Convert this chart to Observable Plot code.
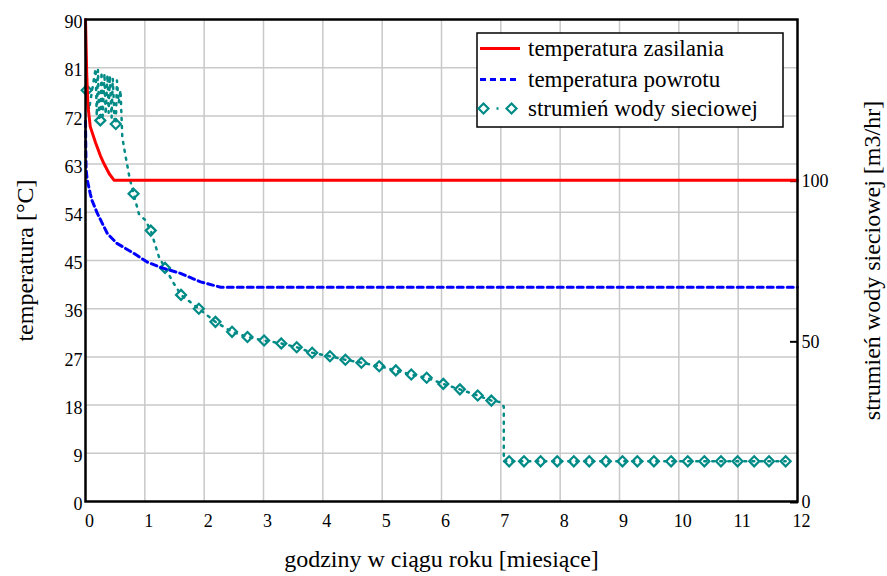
<!DOCTYPE html>
<html>
<head>
<meta charset="utf-8">
<script src="https://cdn.jsdelivr.net/npm/d3@7"></script>
<script src="https://cdn.jsdelivr.net/npm/@observablehq/plot@0.6"></script>
<style>
  html, body { margin: 0; padding: 0; background: #fff; }
  #chart { width: 887px; height: 576px; }
  #chart svg text { font-family: 'Liberation Serif', 'Times New Roman', serif; }
</style>
</head>
<body>
<div id="chart"></div>
<script>
// Axis ticks
const monthTicks = d3.range(0, 13);
const tempTicks = [0, 9, 18, 27, 36, 45, 54, 63, 72, 81, 90];
const flowTicks = [0, 50, 100];

// Supply temperature [°C] vs. months
const supplyMonth = [0, 0.02, 0.04, 0.08, 0.17, 0.25, 0.31, 0.40, 0.48, 12];
const supplyTemp  = [90, 80, 74, 70, 67, 64.6, 63.1, 61.2, 60, 60];

// Return temperature [°C] vs. months
const returnMonth = [0, 0.005, 0.01, 0.03, 0.08, 0.11, 0.20, 0.37, 0.53, 0.82, 1.04, 1.27, 1.60, 1.94, 2.28, 12];
const returnTemp  = [71, 66, 62, 60, 57.5, 56.2, 53.8, 50, 48.2, 46.3, 44.7, 43.7, 42.6, 41, 40, 40];

// Network water flow [m3/hr] vs. months; flowMarker = 1 where a diamond is drawn
const flowMonth = [
  0.02, 0.06, 0.17, 0.19, 0.21, 0.23, 0.25, 0.27, 0.29, 0.32, 0.34, 0.37, 0.39, 0.41, 0.44, 0.46, 0.49, 0.51,
  0.53, 0.56, 0.59, 0.62, 0.67, 0.74, 0.81, 0.90, 1.01, 1.10, 1.24, 1.34, 1.49, 1.61, 1.91, 2.19, 2.47, 2.73,
  3.01, 3.30, 3.56, 3.82, 4.12, 4.38, 4.65, 4.95, 5.23, 5.49, 5.75, 6.03, 6.31, 6.61, 6.84, 7.00, 7.05, 7.05,
  7.14, 7.39, 7.67, 7.95, 8.23, 8.49, 8.77, 9.05, 9.30, 9.58, 9.87, 10.15, 10.43, 10.71, 10.99, 11.27, 11.52, 11.80
];
const flowRate = [
  128, 122, 134.7, 120, 134.3, 119.5, 118.6, 133.7, 120, 133.2, 120.5, 132.7, 121, 132.5, 119.5, 131.7, 119, 117.5,
  131, 124, 128, 113.4, 108, 101, 95.8, 89.5, 87.5, 84.3, 76, 72.7, 67.8, 64.3, 60.0, 55.9, 52.8, 51.2,
  50.1, 49.2, 48.0, 46.3, 45.2, 44.1, 43.2, 42.1, 40.8, 39.5, 38.5, 36.6, 34.9, 33.0, 31.4, 30.9, 29.5, 12.5,
  12.5, 12.5, 12.5, 12.5, 12.5, 12.5, 12.5, 12.5, 12.5, 12.5, 12.5, 12.5, 12.5, 12.5, 12.5, 12.5, 12.5, 12.5
];
const flowMarker = [
  1, 0, 0, 0, 0, 0, 1, 0, 0, 0, 0, 0, 0, 0, 0, 0, 0, 1,
  0, 0, 0, 0, 0, 0, 1, 0, 0, 1, 0, 1, 0, 1, 1, 1, 1, 1,
  1, 1, 1, 1, 1, 1, 1, 1, 1, 1, 1, 1, 1, 1, 1, 0, 0, 0,
  1, 1, 1, 1, 1, 1, 1, 1, 1, 1, 1, 1, 1, 1, 1, 1, 1, 1
];

// Legend entries
const legendLabels = ["temperatura zasilania", "temperatura powrotu", "strumień wody sieciowej"];

const RED = "#ff0000", BLUE = "#0000ff", TEAL = "#008b87", GRID = "#c9c9c9";
const FONT = "'Liberation Serif', 'Times New Roman', serif";

// The flow series shares the temperature scale: 150 m3/hr spans the same height as 90 °C
const flowToTemp = 90 / 150;

const supply = supplyMonth.map((m, i) => ({month: m, value: supplyTemp[i]}));
const ret = returnMonth.map((m, i) => ({month: m, value: returnTemp[i]}));
const flow = flowMonth.map((m, i) => ({month: m, value: flowRate[i] * flowToTemp, marker: flowMarker[i]}));
const flowMarks = flow.filter(d => d.marker);

const chart = Plot.plot({
  width: 887,
  height: 576,
  marginLeft: 85,
  marginRight: 90,
  marginTop: 19,
  marginBottom: 75,
  style: {fontFamily: FONT, fontSize: "18px", color: "#000", background: "#fff", overflow: "visible"},
  x: {domain: [0, 12]},
  y: {domain: [0, 90]},
  marks: [
    Plot.gridX(monthTicks.slice(1, -1), {stroke: GRID, strokeOpacity: 1, strokeWidth: 1.5}),
    Plot.gridY(tempTicks.slice(1, -1), {stroke: GRID, strokeOpacity: 1, strokeWidth: 1.5}),
    Plot.axisX(monthTicks, {tickSize: 0, tickPadding: 13, dx: 4, label: null, fontSize: 18, fontFamily: FONT}),
    Plot.axisY(tempTicks, {anchor: "left", tickSize: 0, tickPadding: 3, dy: 3, label: null, fontSize: 18, fontFamily: FONT}),
    Plot.axisY(flowTicks.map(v => v * flowToTemp), {
      anchor: "right", tickSize: -8, tickPadding: 12, dy: 1, label: null, fontSize: 18, fontFamily: FONT,
      strokeWidth: 2, tickFormat: d => String(Math.round(d / flowToTemp))
    }),
    Plot.line(flow, {x: "month", y: "value", stroke: TEAL, strokeWidth: 2.5, strokeDasharray: "2,6"}),
    Plot.dot(flowMarks, {x: "month", y: "value", symbol: "diamond2", r: 4.5, stroke: TEAL, strokeWidth: 2.2, fill: "none"}),
    Plot.line(ret, {x: "month", y: "value", stroke: BLUE, strokeWidth: 3, strokeDasharray: "6,4"}),
    Plot.line(supply, {x: "month", y: "value", stroke: RED, strokeWidth: 3}),
    Plot.frame({stroke: "#000", strokeWidth: 2.5}),
    Plot.text(["temperatura [°C]"], {frameAnchor: "left", dx: -60, rotate: -90, textAnchor: "middle", lineAnchor: "middle", fontSize: 24, fontFamily: FONT}),
    Plot.text(["strumień wody sieciowej [m3/hr]"], {frameAnchor: "right", dx: 75, rotate: -90, textAnchor: "middle", lineAnchor: "middle", fontSize: 24, fontFamily: FONT}),
    Plot.text(["godziny w ciągu roku [miesiące]"], {frameAnchor: "bottom", dy: 58, textAnchor: "middle", lineAnchor: "middle", fontSize: 24, fontFamily: FONT})
  ]
});

// Legend box in the upper right of the plot area
const svg = d3.select(chart);
const lg = svg.append("g")
  .attr("font-family", FONT)
  .attr("font-size", 23)
  .attr("text-anchor", "start");
lg.append("rect").attr("x", 477).attr("y", 33).attr("width", 306).attr("height", 94)
  .attr("fill", "#fff").attr("stroke", "#000").attr("stroke-width", 1.5);
const rowY = [48.5, 79.5, 108.5];
lg.append("path").attr("d", `M480,${rowY[0]}H520`)
  .attr("fill", "none").attr("stroke", RED).attr("stroke-width", 3);
lg.append("path").attr("d", `M480,${rowY[1]}H520`)
  .attr("fill", "none").attr("stroke", BLUE).attr("stroke-width", 3).attr("stroke-dasharray", "6,4");
lg.append("path").attr("d", `M494,${rowY[2]}H501`)
  .attr("fill", "none").attr("stroke", TEAL).attr("stroke-width", 2.5).attr("stroke-dasharray", "2,6").attr("stroke-dashoffset", -2.5);
[483.5, 511.5].forEach(x => {
  lg.append("path").attr("d", d3.symbol(d3.symbolDiamond2, Math.PI * 4.5 * 4.5)())
    .attr("transform", `translate(${x},${rowY[2]})`)
    .attr("fill", "none").attr("stroke", TEAL).attr("stroke-width", 2.2);
});
legendLabels.forEach((t, i) => {
  lg.append("text").attr("x", 528).attr("y", rowY[i]).attr("dy", "0.32em")
    .attr("text-anchor", "start").attr("fill", "#000").text(t);
});

document.getElementById("chart").appendChild(chart);
</script>
</body>
</html>
